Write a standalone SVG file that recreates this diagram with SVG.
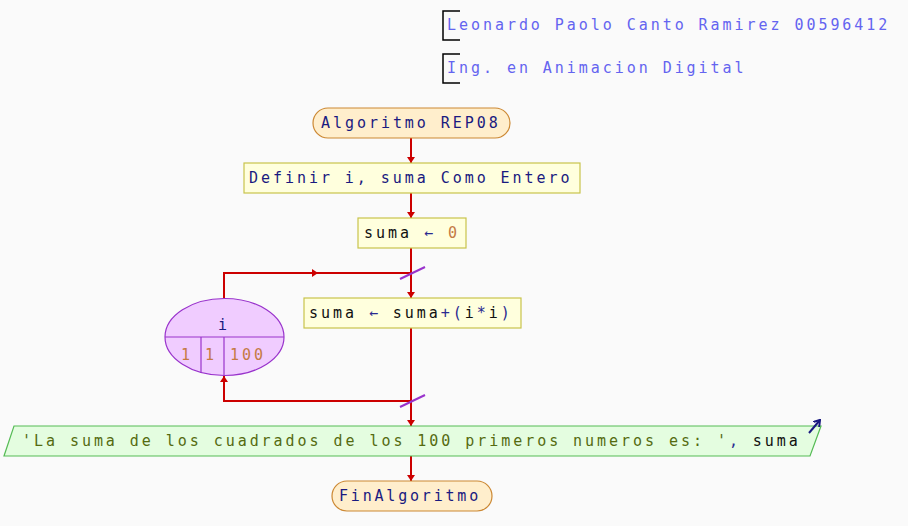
<svg xmlns="http://www.w3.org/2000/svg" width="908" height="526" viewBox="0 0 908 526">
<style>
text{font-family:"DejaVu Sans Mono","Liberation Mono",monospace;font-size:15px;letter-spacing:2.95px}
.hdr{fill:#6464f0}
.term{fill:#ffeecc;stroke:#cc8833;stroke-width:1.2}
.proc{fill:#ffffdd;stroke:#c8c44c;stroke-width:1.2}
.kw{fill:#1a1a80}
.op{fill:#2a2a90}
.var{fill:#111111}
.num{fill:#c47a44}
.str{fill:#556b10}
.conn{fill:none;stroke:#cc0000;stroke-width:2}
.slash{stroke:#9933cc;stroke-width:2}
</style>
<defs>
<marker id="ah" markerWidth="6" markerHeight="8" refX="6" refY="4" orient="auto" markerUnits="userSpaceOnUse"><path d="M0,0 L6,4 L0,8 z" fill="#cc0000"/></marker>
<marker id="ahb" markerWidth="7" markerHeight="8" refX="6" refY="4" orient="auto" markerUnits="userSpaceOnUse"><path d="M0,0 L6,4 L0,8" fill="none" stroke="#1a1a80" stroke-width="2"/></marker>
</defs>
<rect width="908" height="526" fill="#fafafa"/>
<g id="header">
<path d="M460,11 H443 V40 H460" fill="none" stroke="#000" stroke-width="1.5"/>
<text class="hdr" x="447" y="30">Leonardo Paolo Canto Ramirez 00596412</text>
<path d="M460,54 H443 V83 H460" fill="none" stroke="#000" stroke-width="1.5"/>
<text class="hdr" x="447" y="73">Ing. en Animacion Digital</text>
</g>
<g id="connectors">
<path class="conn" d="M411,138 V163" marker-end="url(#ah)"/>
<path class="conn" d="M411,193 V218" marker-end="url(#ah)"/>
<path class="conn" d="M411,248 V298" marker-end="url(#ah)"/>
<path class="conn" d="M411,328 V426" marker-end="url(#ah)"/>
<path class="conn" d="M224,298 V273 H318" marker-end="url(#ah)"/>
<path class="conn" d="M316,273 H411"/>
<path class="conn" d="M411,401 H224 V376" marker-end="url(#ah)"/>
<path class="conn" d="M411,456 V481" marker-end="url(#ah)"/>
<line class="slash" x1="400" y1="279" x2="425" y2="267"/>
<line class="slash" x1="400" y1="407" x2="425" y2="395"/>
</g>
<g id="start">
<rect class="term" x="313" y="108" width="197" height="30" rx="15"/>
<text class="kw" x="321" y="128">Algoritmo REP08</text>
</g>
<g id="definir">
<rect class="proc" x="244" y="163" width="336" height="30"/>
<text class="kw" x="249" y="183">Definir i, suma Como Entero</text>
</g>
<g id="asig1">
<rect class="proc" x="358" y="218" width="108" height="30"/>
<text x="364" y="238"><tspan class="var">suma </tspan><tspan class="op">←</tspan><tspan> </tspan><tspan class="num">0</tspan></text>
</g>
<g id="loop">
<ellipse cx="224.5" cy="337" rx="59.5" ry="38.5" fill="#f0ccff" stroke="#9933cc" stroke-width="1.2"/>
<line x1="165" y1="337" x2="284" y2="337" stroke="#9933cc" stroke-width="1.2"/>
<line x1="201" y1="337" x2="201" y2="373" stroke="#9933cc" stroke-width="1.2"/>
<line x1="224" y1="337" x2="224" y2="375.5" stroke="#9933cc" stroke-width="1.2"/>
<text class="kw" x="218" y="330">i</text>
<text class="num" x="181" y="360">1</text>
<text class="num" x="205" y="360">1</text>
<text class="num" x="230" y="360">100</text>
</g>
<g id="asig2">
<rect class="proc" x="304" y="298" width="217" height="30"/>
<text x="309" y="318"><tspan class="var">suma </tspan><tspan class="op">←</tspan><tspan class="var"> suma</tspan><tspan class="op">+(</tspan><tspan class="var">i</tspan><tspan class="op">*</tspan><tspan class="var">i</tspan><tspan class="op">)</tspan></text>
</g>
<g id="output">
<polygon points="14,426 821,426 810,456 4,456" fill="#e4fde0" stroke="#55bb55" stroke-width="1.2"/>
<text x="22" y="446"><tspan class="str">'La suma de los cuadrados de los 100 primeros numeros es: '</tspan><tspan class="op">, </tspan><tspan class="var">suma</tspan></text>
<line x1="809" y1="433" x2="820" y2="420" stroke="#1a1a80" stroke-width="2" marker-end="url(#ahb)"/>
</g>
<g id="end">
<rect class="term" x="332" y="481" width="160" height="30" rx="15"/>
<text class="kw" x="339" y="501" style="letter-spacing:2.8px">FinAlgoritmo</text>
</g>
</svg>
